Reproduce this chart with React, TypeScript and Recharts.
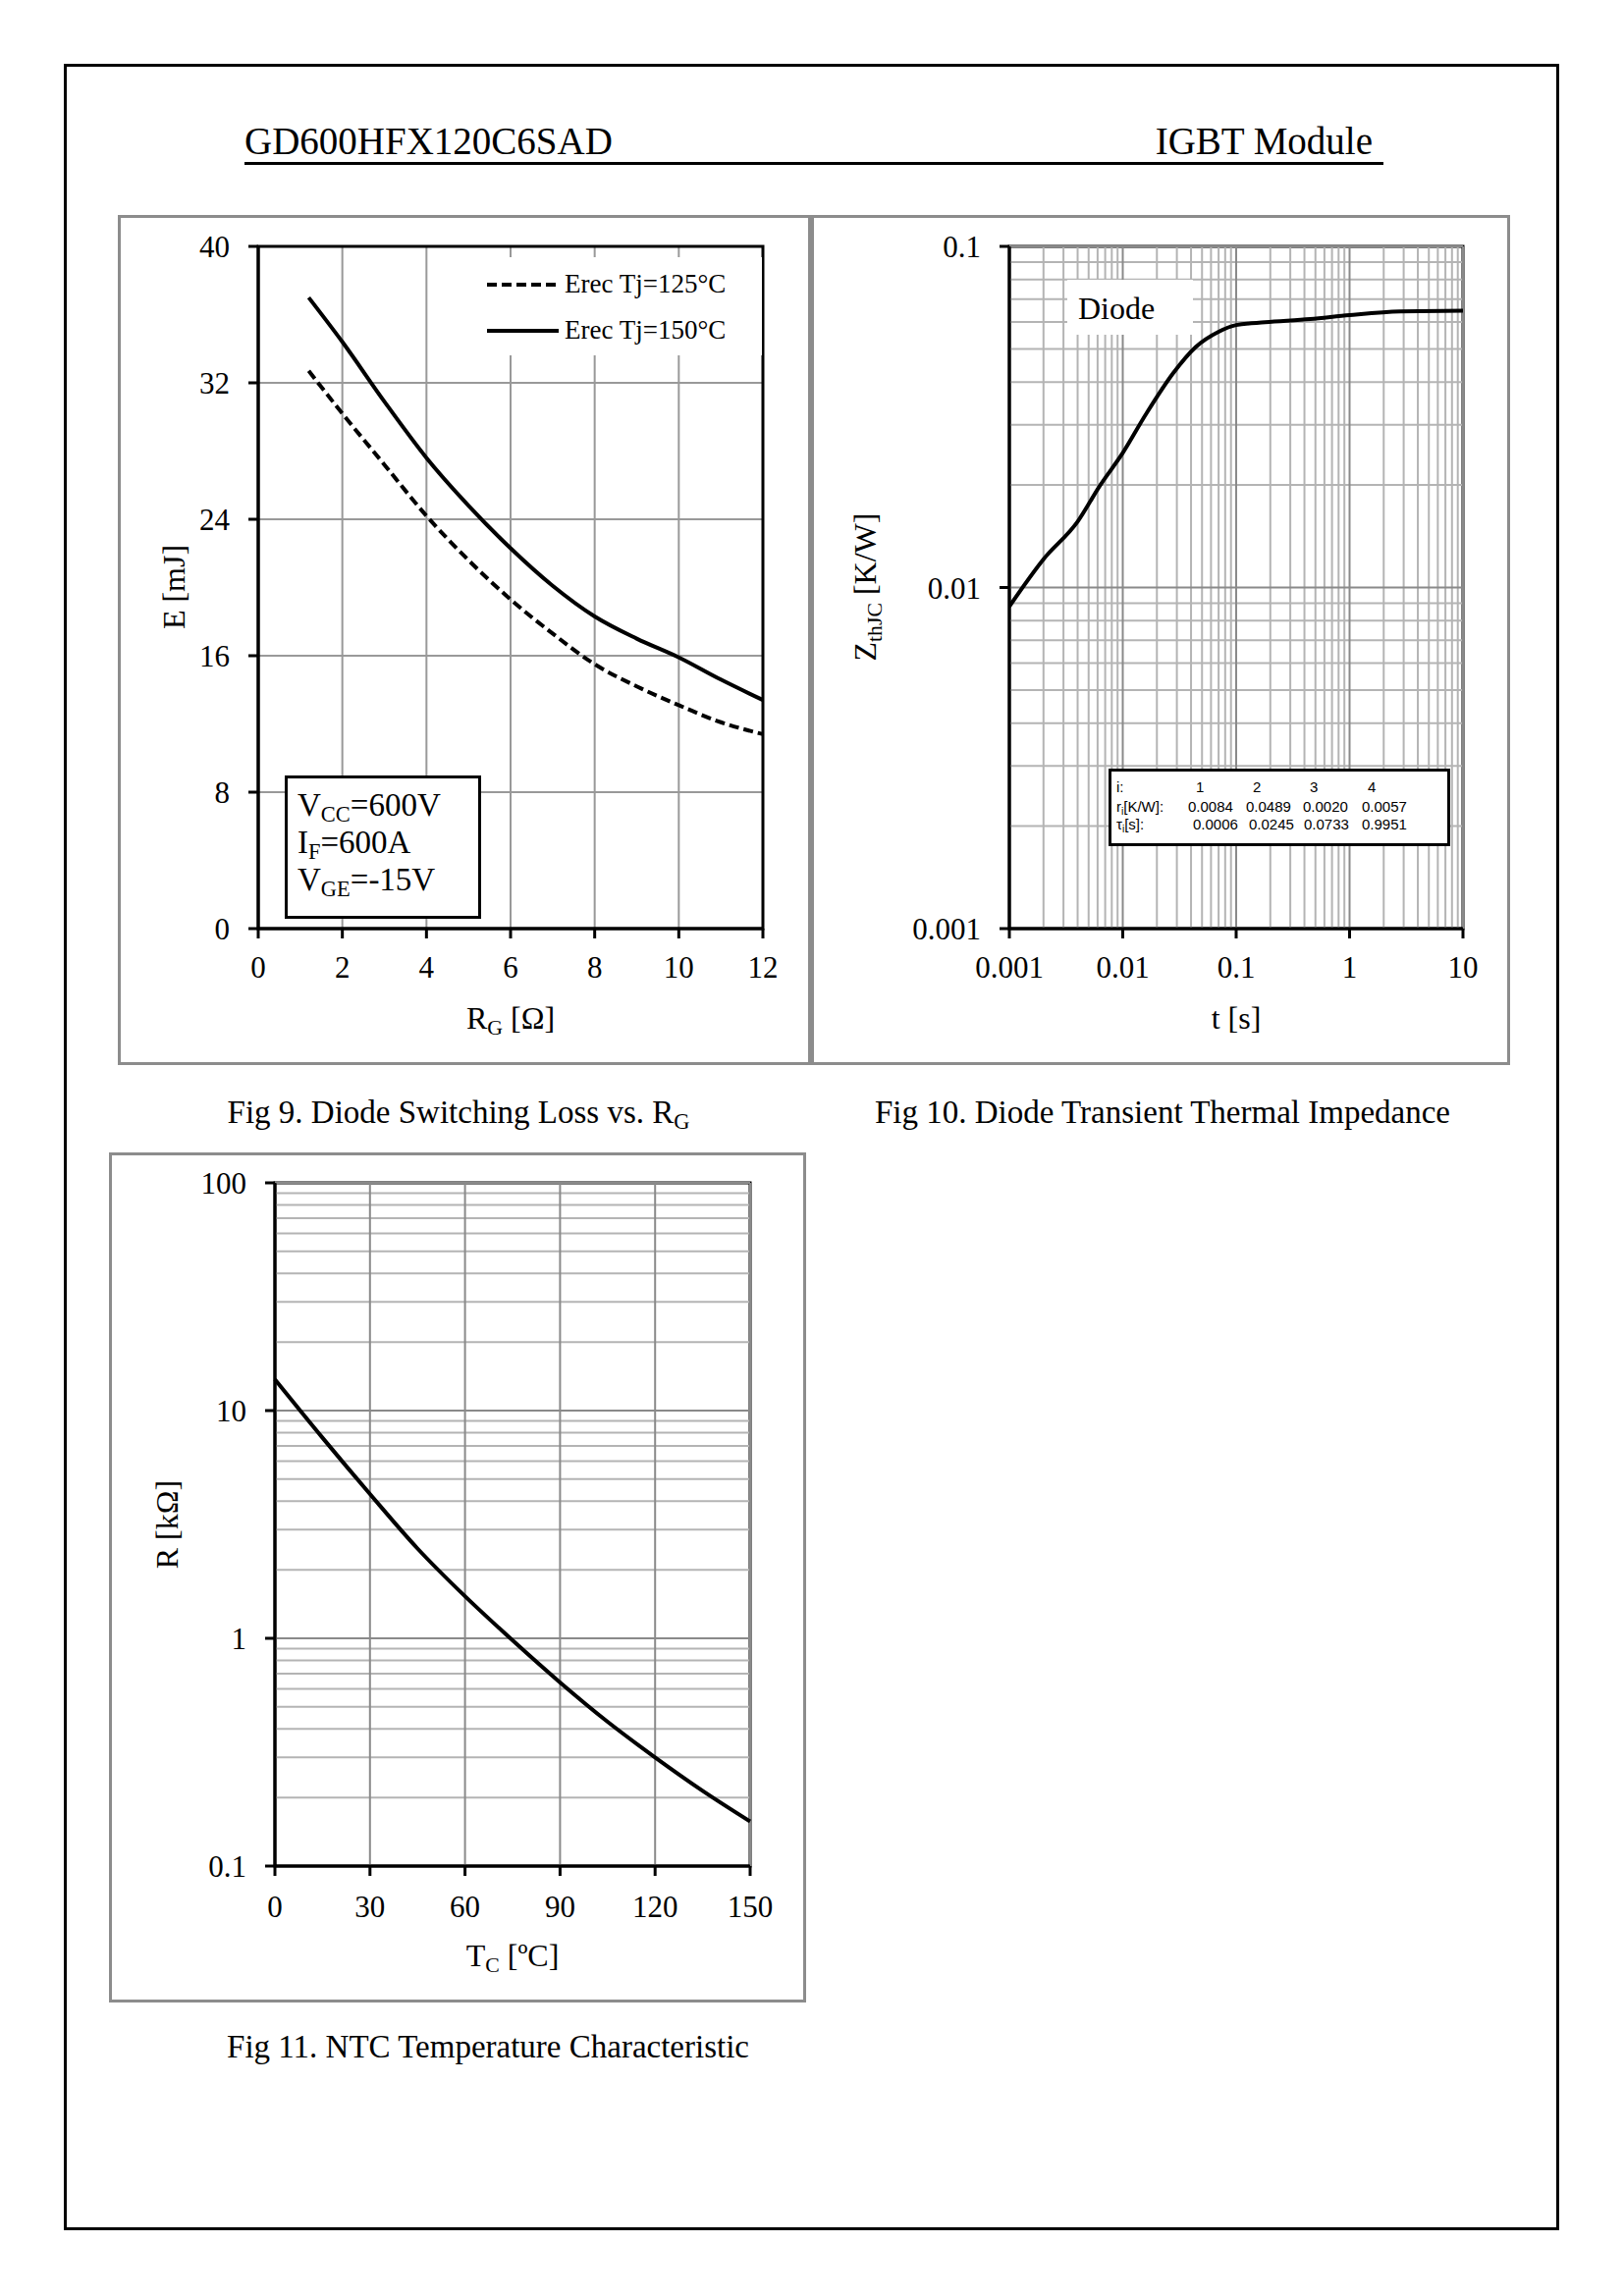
import React from "react"
import {
  LineChart,
  Line,
  XAxis,
  YAxis,
  CartesianGrid,
  ReferenceLine,
  ReferenceArea,
  Legend,
} from "recharts"

// Fig 9 – diode switching loss vs RG
const rgValues = [1.2, 2, 3, 4, 5, 6, 7, 8, 9, 10, 11, 12]
const erec125 = [32.7, 30.2, 27.2, 24.2, 21.6, 19.3, 17.3, 15.5, 14.2, 13.1, 12.1, 11.4]
const erec150 = [37.0, 34.4, 30.9, 27.6, 24.8, 22.3, 20.1, 18.3, 17.0, 15.9, 14.6, 13.4]
const rgTicks = [0, 2, 4, 6, 8, 10, 12]
const eTicks = [0, 8, 16, 24, 32, 40]

// Fig 10 – diode transient thermal impedance
const tValues = [0.001, 0.002, 0.004, 0.0063, 0.01, 0.016, 0.028, 0.044, 0.07, 0.1, 0.18, 0.45, 1, 2.8, 10]
const zthValues = [0.0088, 0.0121, 0.0156, 0.0199, 0.0248, 0.0322, 0.0426, 0.0507, 0.0562, 0.0588, 0.0599, 0.0612, 0.0629, 0.0645, 0.0648]
const tTicks = [0.001, 0.01, 0.1, 1, 10]
const zTicks = [0.001, 0.01, 0.1]
const fosterIndex = ["1", "2", "3", "4"]
const fosterR = ["0.0084", "0.0489", "0.0020", "0.0057"]
const fosterTau = ["0.0006", "0.0245", "0.0733", "0.9951"]

// Fig 11 – NTC temperature characteristic
const tcValues = [0, 15, 30, 45, 60, 75, 90, 105, 120, 135, 150]
const ntcValues = [13.7, 7.6, 4.3, 2.48, 1.53, 0.98, 0.64, 0.43, 0.3, 0.214, 0.157]
const tcTicks = [0, 30, 60, 90, 120, 150]
const rTicks = [0.1, 1, 10, 100]

const SERIF = '"Liberation Serif", "Times New Roman", serif'
const MINOR = "#b4b4b4"
const MAJOR = "#8a8a8a"

// 2..9 steps inside one decade, used for the log grid
const decade = (base: number) =>
  [2, 3, 4, 5, 6, 7, 8, 9].map((m) => +(m * base).toPrecision(3))

const tMinor = [...decade(0.001), ...decade(0.01), ...decade(0.1), ...decade(1)]
const zMinor = [...decade(0.001), ...decade(0.01)]
const rMinor = [...decade(0.1), ...decade(1), ...decade(10)]

const tickStyle = { fontSize: 31, fontFamily: SERIF, fill: "#000" }
const axisLine = { stroke: "#000", strokeWidth: 3 }
const tickLine = { stroke: "#000", strokeWidth: 3 }

function Txt({
  x,
  baseline,
  size,
  anchor = "start",
  children,
  font = SERIF,
}: {
  x: number
  baseline: number
  size: number
  anchor?: "start" | "middle" | "end"
  children: React.ReactNode
  font?: string
}) {
  const shift = anchor === "middle" ? "translateX(-50%)" : anchor === "end" ? "translateX(-100%)" : "none"
  return (
    <div
      style={{
        position: "absolute",
        left: x,
        top: baseline - 0.8375 * size,
        fontSize: size,
        lineHeight: `${size}px`,
        fontFamily: font,
        whiteSpace: "nowrap",
        transform: shift,
        color: "#000",
      }}
    >
      {children}
    </div>
  )
}

function VTitle({ cx, cy, children }: { cx: number; cy: number; children: React.ReactNode }) {
  return (
    <div
      style={{
        position: "absolute",
        left: cx,
        top: cy,
        fontSize: 32,
        lineHeight: "32px",
        fontFamily: SERIF,
        whiteSpace: "nowrap",
        transform: "translate(-50%, -50%) rotate(-90deg)",
      }}
    >
      {children}
    </div>
  )
}

const Sub = ({ children }: { children: React.ReactNode }) => (
  <span style={{ fontSize: "0.68em", verticalAlign: "-0.28em" }}>{children}</span>
)

function Frame({ l, t, w, h }: { l: number; t: number; w: number; h: number }) {
  return (
    <div
      style={{
        position: "absolute",
        left: l,
        top: t,
        width: w,
        height: h,
        border: "3px solid #8c8c8c",
        boxSizing: "border-box",
      }}
    />
  )
}

function ErecLegend(props: any) {
  const payload = props.payload || []
  return (
    <svg width={288} height={100} style={{ background: "#fff", display: "block" }}>
      {payload.map((entry: any, i: number) => {
        const y = 28 + i * 47
        return (
          <g key={i}>
            <line
              x1={8}
              x2={81}
              y1={y}
              y2={y}
              stroke="#000"
              strokeWidth={4}
              strokeDasharray={entry.payload?.strokeDasharray}
            />
            <text x={87} y={y + 8} fontSize={27} fontFamily={SERIF} fill="#000">
              {entry.value}
            </text>
          </g>
        )
      })}
    </svg>
  )
}

function Fig9() {
  const data = rgValues.map((rg, i) => ({ rg, e125: erec125[i], e150: erec150[i] }))
  return (
    <div style={{ position: "absolute", left: 120, top: 219 }}>
      <LineChart width={706} height={866} data={data} margin={{ top: 32, right: 49, bottom: 79, left: 63 }}>
        <CartesianGrid stroke="#999" strokeWidth={2} />
        <XAxis
          dataKey="rg"
          type="number"
          domain={[0, 12]}
          ticks={rgTicks}
          interval={0}
          height={60}
          tick={tickStyle}
          tickSize={10}
          tickMargin={18}
          axisLine={axisLine}
          tickLine={tickLine}
        />
        <YAxis
          type="number"
          domain={[0, 40]}
          ticks={eTicks}
          interval={0}
          width={80}
          tick={tickStyle}
          tickSize={10}
          tickMargin={19}
          axisLine={axisLine}
          tickLine={tickLine}
        />
        <ReferenceArea x1={0} x2={12} y1={0} y2={40} fill="none" stroke="#000" strokeWidth={3} />
        <Line
          dataKey="e125"
          name="Erec Tj=125°C"
          type="monotone"
          stroke="#000"
          strokeWidth={4}
          strokeDasharray="10 5"
          dot={false}
          isAnimationActive={false}
        />
        <Line
          dataKey="e150"
          name="Erec Tj=150°C"
          type="monotone"
          stroke="#000"
          strokeWidth={4}
          dot={false}
          isAnimationActive={false}
        />
        <Legend
          layout="horizontal"
          verticalAlign="middle"
          align="center"
          content={ErecLegend}
          wrapperStyle={{ left: 368, top: 43, width: 288, height: 100 }}
        />
      </LineChart>
    </div>
  )
}

function Fig10() {
  const data = tValues.map((t, i) => ({ t, z: zthValues[i] }))
  return (
    <div style={{ position: "absolute", left: 826, top: 219 }}>
      <LineChart width={712} height={866} data={data} margin={{ top: 32, right: 48, bottom: 79, left: 102 }}>
        {tMinor.map((v) => (
          <ReferenceLine key={`tx${v}`} x={v} stroke={MINOR} strokeWidth={2} />
        ))}
        {zMinor.map((v) => (
          <ReferenceLine key={`zy${v}`} y={v} stroke={MINOR} strokeWidth={2} />
        ))}
        {tTicks.map((v) => (
          <ReferenceLine key={`TX${v}`} x={v} stroke={MAJOR} strokeWidth={2} />
        ))}
        {zTicks.map((v) => (
          <ReferenceLine key={`ZY${v}`} y={v} stroke={MAJOR} strokeWidth={2} />
        ))}
        <XAxis
          dataKey="t"
          type="number"
          scale="log"
          domain={[0.001, 10]}
          allowDataOverflow
          ticks={tTicks}
          interval={0}
          tickFormatter={(v) => String(v)}
          height={60}
          tick={tickStyle}
          tickSize={10}
          tickMargin={18}
          axisLine={axisLine}
          tickLine={tickLine}
        />
        <YAxis
          type="number"
          scale="log"
          domain={[0.001, 0.1]}
          allowDataOverflow
          ticks={zTicks}
          interval={0}
          tickFormatter={(v) => String(v)}
          width={100}
          tick={tickStyle}
          tickSize={10}
          tickMargin={19}
          axisLine={axisLine}
          tickLine={tickLine}
        />
        <ReferenceArea x1={0.001} x2={10} y1={0.001} y2={0.1} fill="none" stroke="#000" strokeWidth={3} />
        <Line dataKey="z" type="monotone" stroke="#000" strokeWidth={4} dot={false} isAnimationActive={false} />
      </LineChart>
    </div>
  )
}

function Fig11() {
  const data = tcValues.map((tc, i) => ({ tc, r: ntcValues[i] }))
  return (
    <div style={{ position: "absolute", left: 111, top: 1174 }}>
      <LineChart width={710} height={866} data={data} margin={{ top: 31, right: 57, bottom: 79, left: 69 }}>
        {rMinor.map((v) => (
          <ReferenceLine key={`ry${v}`} y={v} stroke={MINOR} strokeWidth={2} />
        ))}
        {rTicks.map((v) => (
          <ReferenceLine key={`RY${v}`} y={v} stroke={MAJOR} strokeWidth={2} />
        ))}
        {tcTicks.map((v) => (
          <ReferenceLine key={`TC${v}`} x={v} stroke={MAJOR} strokeWidth={2} />
        ))}
        <XAxis
          dataKey="tc"
          type="number"
          domain={[0, 150]}
          ticks={tcTicks}
          interval={0}
          height={60}
          tick={tickStyle}
          tickSize={10}
          tickMargin={20}
          axisLine={axisLine}
          tickLine={tickLine}
        />
        <YAxis
          type="number"
          scale="log"
          domain={[0.1, 100]}
          allowDataOverflow
          ticks={rTicks}
          interval={0}
          tickFormatter={(v) => String(v)}
          width={100}
          tick={tickStyle}
          tickSize={10}
          tickMargin={19}
          axisLine={axisLine}
          tickLine={tickLine}
        />
        <ReferenceArea x1={0} x2={150} y1={0.1} y2={100} fill="none" stroke="#000" strokeWidth={3} />
        <Line dataKey="r" type="monotone" stroke="#000" strokeWidth={4} dot={false} isAnimationActive={false} />
      </LineChart>
    </div>
  )
}

const colLeft = {
  i: [1218, 1276, 1334, 1393],
  r: [1210, 1269, 1327, 1387],
  tau: [1215, 1272, 1328, 1387],
}
const TABLE_FONT = '"Liberation Sans", Arial, sans-serif'

export default function App() {
  return (
    <div
      style={{
        position: "absolute",
        left: 0,
        top: 0,
        width: 1654,
        height: 2339,
        background: "#fff",
        overflow: "hidden",
      }}
    >
      {/* page border */}
      <div
        style={{
          position: "absolute",
          left: 65,
          top: 65,
          width: 1523,
          height: 2207,
          border: "3px solid #000",
          boxSizing: "border-box",
        }}
      />

      {/* header */}
      <Txt x={249} baseline={157} size={39}>GD600HFX120C6SAD</Txt>
      <Txt x={1398} baseline={157} size={39} anchor="end">IGBT Module</Txt>
      <div style={{ position: "absolute", left: 249, top: 165, width: 1160, height: 3, background: "#000" }} />

      <Frame l={120} t={219} w={706} h={866} />
      <Frame l={826} t={219} w={712} h={866} />
      <Frame l={111} t={1174} w={710} h={866} />

      <Fig9 />
      <Fig10 />
      <Fig11 />

      {/* Fig 9 overlays */}
      <div
        style={{
          position: "absolute",
          left: 290,
          top: 790,
          width: 200,
          height: 146,
          border: "3px solid #000",
          boxSizing: "border-box",
          background: "#fff",
        }}
      />
      <Txt x={303} baseline={832} size={33}>
        V<Sub>CC</Sub>=600V
      </Txt>
      <Txt x={303} baseline={870} size={33}>
        I<Sub>F</Sub>=600A
      </Txt>
      <Txt x={303} baseline={908} size={33}>
        V<Sub>GE</Sub>=-15V
      </Txt>
      <VTitle cx={177} cy={598}>E [mJ]</VTitle>
      <Txt x={520} baseline={1048} size={32} anchor="middle">
        R<Sub>G</Sub> [Ω]
      </Txt>

      {/* Fig 10 overlays */}
      <div style={{ position: "absolute", left: 1087, top: 285, width: 128, height: 56, background: "#fff" }} />
      <Txt x={1098} baseline={325} size={32}>Diode</Txt>
      <div
        style={{
          position: "absolute",
          left: 1129,
          top: 783,
          width: 348,
          height: 79,
          border: "3px solid #000",
          boxSizing: "border-box",
          background: "#fff",
        }}
      />
      <Txt x={1137} baseline={807} size={15} font={TABLE_FONT}>i:</Txt>
      <Txt x={1137} baseline={827} size={15} font={TABLE_FONT}>
        r<Sub>i</Sub>[K/W]:
      </Txt>
      <Txt x={1137} baseline={845} size={15} font={TABLE_FONT}>
        τ<Sub>i</Sub>[s]:
      </Txt>
      {fosterIndex.map((v, k) => (
        <Txt key={`i${k}`} x={colLeft.i[k]} baseline={807} size={15} font={TABLE_FONT}>{v}</Txt>
      ))}
      {fosterR.map((v, k) => (
        <Txt key={`r${k}`} x={colLeft.r[k]} baseline={827} size={15} font={TABLE_FONT}>{v}</Txt>
      ))}
      {fosterTau.map((v, k) => (
        <Txt key={`t${k}`} x={colLeft.tau[k]} baseline={845} size={15} font={TABLE_FONT}>{v}</Txt>
      ))}
      <VTitle cx={886} cy={598}>
        Z<Sub>thJC</Sub> [K/W]
      </VTitle>
      <Txt x={1259} baseline={1048} size={32} anchor="middle">t [s]</Txt>

      {/* Fig 11 overlays */}
      <VTitle cx={170} cy={1553}>R [kΩ]</VTitle>
      <Txt x={522} baseline={2003} size={32} anchor="middle">
        T<Sub>C</Sub> [ºC]
      </Txt>

      {/* captions */}
      <Txt x={467} baseline={1145} size={33} anchor="middle">
        Fig 9. Diode Switching Loss vs. R<Sub>G</Sub>
      </Txt>
      <Txt x={1184} baseline={1145} size={33} anchor="middle">
        Fig 10. Diode Transient Thermal Impedance
      </Txt>
      <Txt x={497} baseline={2097} size={33} anchor="middle">
        Fig 11. NTC Temperature Characteristic
      </Txt>
    </div>
  )
}
